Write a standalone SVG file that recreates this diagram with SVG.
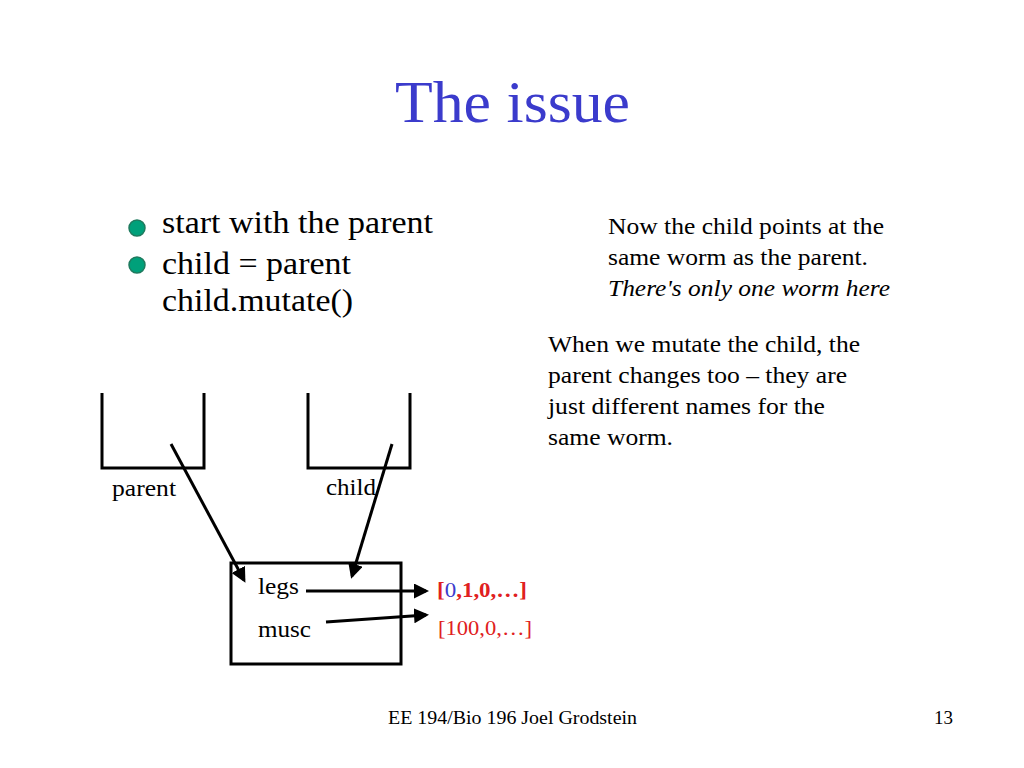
<svg xmlns="http://www.w3.org/2000/svg" width="1024" height="768" viewBox="0 0 1024 768">
<style>
text{font-family:"Liberation Serif","Times New Roman","DejaVu Serif",serif}
.b{fill:none;stroke:#000;stroke-width:3}
.c{stroke:#000;stroke-width:3;fill:none}
.bul{fill:#00a07a;stroke:#1f7a5e;stroke-width:1.5}
</style>
<defs><marker id="ah" markerWidth="5" markerHeight="5" refX="4" refY="2.5" orient="auto" markerUnits="strokeWidth"><path d="M0,0L5,2.5L0,5z" fill="#000"/></marker></defs>
<rect width="1024" height="768" fill="#fff"/>
<text x="395" y="122" font-size="60" fill="#3b3bcc" textLength="235" lengthAdjust="spacingAndGlyphs">The issue</text>
<circle class="bul" cx="137" cy="228" r="8"/>
<circle class="bul" cx="137" cy="265" r="8"/>
<text x="162" y="233" font-size="32" textLength="271" lengthAdjust="spacingAndGlyphs">start with the parent</text>
<text x="162" y="274" font-size="32" textLength="189" lengthAdjust="spacingAndGlyphs">child = parent</text>
<text x="162" y="311" font-size="32" textLength="191" lengthAdjust="spacingAndGlyphs">child.mutate()</text>
<text font-size="23" x="608" y="234" textLength="276" lengthAdjust="spacingAndGlyphs">Now the child points at the</text>
<text font-size="23" x="608" y="265" textLength="260" lengthAdjust="spacingAndGlyphs">same worm as the parent.</text>
<text font-size="23" x="608" y="296" font-style="italic" textLength="282" lengthAdjust="spacingAndGlyphs">There's only one worm here</text>
<text font-size="23" x="548" y="352" textLength="312" lengthAdjust="spacingAndGlyphs">When we mutate the child, the</text>
<text font-size="23" x="548" y="383" textLength="299" lengthAdjust="spacingAndGlyphs">parent changes too – they are</text>
<text font-size="23" x="548" y="414" textLength="277" lengthAdjust="spacingAndGlyphs">just different names for the</text>
<text font-size="23" x="548" y="445" textLength="125" lengthAdjust="spacingAndGlyphs">same worm.</text>
<g id="parent"><path class="b" d="M102,393V468H204V393"/><text x="112" y="496" font-size="23" textLength="64" lengthAdjust="spacingAndGlyphs">parent</text></g>
<g id="child"><path class="b" d="M308,393V468H410V393"/><text x="326" y="495" font-size="23" textLength="50" lengthAdjust="spacingAndGlyphs">child</text></g>
<g id="worm"><rect class="b" x="231" y="563" width="170" height="101"/><text x="258" y="594" font-size="23" textLength="41" lengthAdjust="spacingAndGlyphs">legs</text><text x="258" y="637" font-size="23" textLength="53" lengthAdjust="spacingAndGlyphs">musc</text></g>
<g id="legs"><text x="437" y="597" font-size="22" font-weight="bold" fill="#e02020" textLength="90" lengthAdjust="spacingAndGlyphs">[<tspan fill="#3b3bcc" font-weight="normal">0</tspan>,1,0,…]</text></g>
<g id="musc"><text x="438" y="635" font-size="22" fill="#e02020" textLength="94" lengthAdjust="spacingAndGlyphs">[100,0,…]</text></g>
<g id="connectors">
<line class="c" x1="171" y1="444" x2="244" y2="580" marker-end="url(#ah)"/>
<line class="c" x1="392" y1="444" x2="352" y2="576" marker-end="url(#ah)"/>
<line class="c" x1="306" y1="591" x2="426" y2="591" marker-end="url(#ah)"/>
<line class="c" x1="326" y1="622" x2="426" y2="615" marker-end="url(#ah)"/>
</g>
<text x="388" y="724" font-size="19" textLength="249" lengthAdjust="spacingAndGlyphs">EE 194/Bio 196 Joel Grodstein</text>
<text x="953" y="724" font-size="19" text-anchor="end">13</text>
</svg>
